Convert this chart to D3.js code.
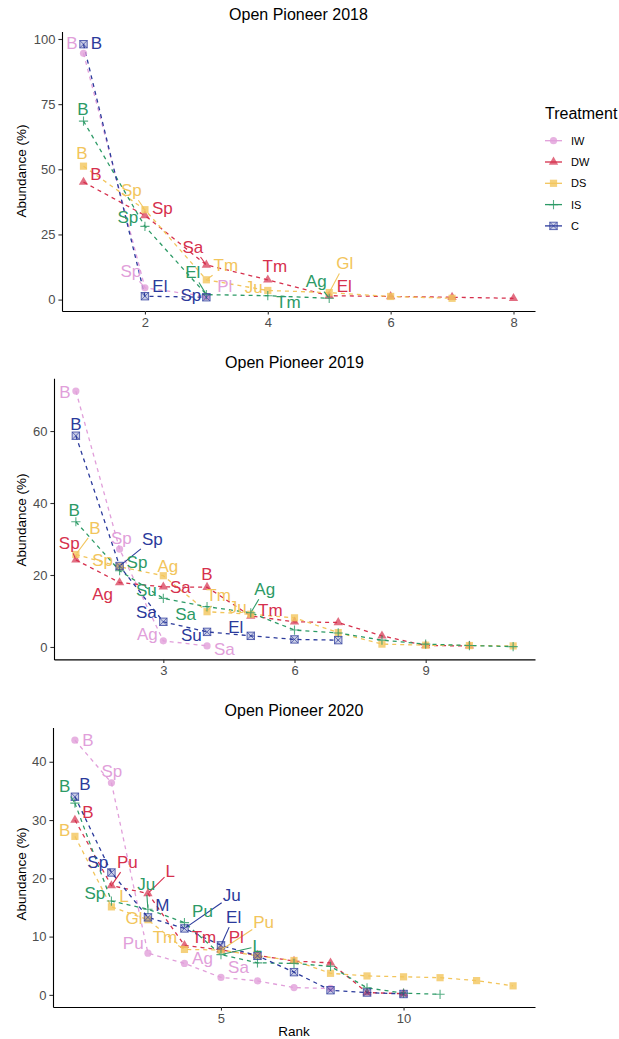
<!DOCTYPE html>
<html><head><meta charset="utf-8">
<script src="https://cdn.jsdelivr.net/npm/d3@7"></script>
<style>body{margin:0;background:#fff} text{font-family:"Liberation Sans",Arial,sans-serif}</style>
</head><body><svg id="c" width="619" height="1039"></svg>
<script>
// ---------- data ----------
const treatments = ["IW","DW","DS","IS","C"];
const colors = ["#E19FDA","#D6304D","#F2C55C","#2C9A66","#2B3A9B"];
const panelTitles = ["Open Pioneer 2018","Open Pioneer 2019","Open Pioneer 2020"];

// abundance (%) by rank, one array per treatment (IW, DW, DS, IS, C)
const abund2018 = [
  [94.5, 4.5, 1.2],
  [45.1, 32.3, 13.3, 7.6, 1.5, 1.2, 0.9, 0.5],
  [51.2, 34.5, 7.6, 3.5, 2.7, 1.2, 0.5],
  [68.5, 28.1, 1.9, 1.5, 0.5],
  [98.0, 1.3, 0.9]
];
const species2018 = [
  ["B","Sp","Pl"],
  ["B","Sp","Sa","Tm","El"],
  ["B","Sp","Tm","Ju","Gl"],
  ["B","Sp","El","Tm","Ag"],
  ["B","El","Sp"]
];
const abund2019 = [
  [71.1, 27.2, 1.7, 0.3],
  [24.2, 17.9, 16.7, 16.6, 8.6, 7.0, 6.8, 3.1, 0.4, 0.3],
  [25.7, 22.3, 19.8, 9.8, 9.1, 8.1, 4.0, 0.8, 0.5, 0.4, 0.3],
  [34.8, 21.2, 13.5, 11.2, 9.5, 4.7, 3.9, 1.9, 0.8, 0.4, 0.1],
  [58.7, 22.5, 7.0, 4.2, 3.1, 2.1, 1.9]
];
const species2019 = [
  ["B","Sp","Ag","Sa"],
  ["Sp","Ag","Sa","B","Tm"],
  ["B","Sp","Ag","Tm","Ju"],
  ["B","Sp","Su","Sa","Ag"],
  ["B","Sp","Sa","Su","El"]
];
const abund2020 = [
  [43.7, 36.4, 7.15, 5.4, 3.0, 2.4, 1.25, 1.1],
  [30.0, 18.75, 17.4, 8.5, 7.7, 6.8, 5.8, 5.5, 0.4, 0.2],
  [27.2, 15.1, 12.9, 7.8, 7.7, 6.7, 5.9, 3.7, 3.25, 3.1, 2.95, 2.45, 1.55],
  [32.9, 16.1, 14.7, 12.4, 6.9, 5.5, 5.4, 4.9, 1.2, 0.3, 0.1],
  [34.0, 21.0, 13.3, 11.4, 8.5, 6.7, 3.9, 0.8, 0.4, 0.15]
];
const species2020 = [
  ["B","Sp","Pu","Ag","Sa"],
  ["B","Pu","L","Tm","Pl"],
  ["B","L","Gl","Tm","Pu"],
  ["B","Sp","Ju","Pu","L"],
  ["B","Sp","M","Ju","El"]
];
const xTicks2018 = [2,4,6,8], yTicks2018 = [0,25,50,75,100];
const xTicks2019 = [3,6,9],   yTicks2019 = [0,20,40,60];
const xTicks2020 = [5,10],    yTicks2020 = [0,10,20,30,40];

// ---------- label placement (repel result): [dx, dy, segment] in px ----------
const nudge2018 = [
  [[-11.5,-10,0],[-14,-17,1],[18.5,-10,0]],
  [[12.5,-8,0],[17.5,-7.5,0],[-13.5,-18.4,1],[7,-14,0],[15,-10,0]],
  [[-1.5,-13.4,0],[-13.5,-20,1],[19.5,-14.7,1],[-14,-3,0],[15.5,-29.5,1]],
  [[-0.5,-12,0],[-17,-9.5,0],[-13.5,-22.6,1],[20.5,6.4,0],[-13,-17.2,1]],
  [[13,-1,0],[15,-10.6,0],[-15.5,-2.2,0]]
];
const nudge2019 = [
  [[-11,0.5,0],[1.7,-11,0],[-16,-7,0],[17.3,2.6,0]],
  [[-6.6,-17,1],[-17,11.5,0],[17,0,0],[0,-13,0],[19.6,-6,0]],
  [[19,-26,1],[-17,-7,0],[4.5,-10,0],[11.5,-16.5,1],[-13,-7,0]],
  [[-1.6,-12,0],[17.4,-9,0],[-17,-8.6,0],[-21.4,7,0],[14,-24,1]],
  [[0,-12,0],[32.7,-26.7,1],[-17,-10,0],[-15.7,3,0],[-15,-8.5,0]]
];
const nudge2020 = [
  [[13,-0.5,0],[0.5,-11.8,0],[-14.7,-10,0],[18,-5.5,0],[17.5,-10.5,0]],
  [[13,-8.4,0],[16,-24,1],[22.3,-22.6,1],[19.5,-8.7,0],[15.3,-13.4,0]],
  [[-10.3,-6.7,0],[12.5,-11,0],[-14,-2,0],[-19.5,-12.8,1],[42.7,-28.4,1]],
  [[-10.3,-17.2,1],[-16.5,-8,0],[-1.8,-24.8,1],[18,-11.7,0],[36.2,-8.8,1]],
  [[10,-13.1,0],[-13.7,-10.6,0],[14.5,-12,0],[47.2,-33,1],[12.7,-28.7,1]]
];

// ---------- layout ----------
const panels = [
  {title: panelTitles[0], data: abund2018, sp: species2018, nudge: nudge2018, xt: xTicks2018, yt: yTicks2018,
   box:{l:62, r:535, t:31.5, b:311}, titleY:20, ylabY:171},
  {title: panelTitles[1], data: abund2019, sp: species2019, nudge: nudge2019, xt: xTicks2019, yt: yTicks2019,
   box:{l:54, r:535, t:378.3, b:659.4}, titleY:368, ylabY:520},
  {title: panelTitles[2], data: abund2020, sp: species2020, nudge: nudge2020, xt: xTicks2020, yt: yTicks2020,
   box:{l:53, r:535, t:727.5, b:1007}, titleY:716, ylabY:874}
];

const svg = d3.select("#c");
svg.append("rect").attr("width",619).attr("height",1039).attr("fill","#fff");

function drawMarker(g, k, cx, cy) {
  const col = colors[k];
  if (k === 0) {
    g.append("circle").attr("cx",cx).attr("cy",cy).attr("r",3.6).attr("fill",col).attr("fill-opacity",0.8);
  } else if (k === 1) {
    g.append("path").attr("d", d3.symbol().type(d3.symbolTriangle).size(38)()).attr("transform",`translate(${cx},${cy})`)
      .attr("fill",col).attr("fill-opacity",0.7);
  } else if (k === 2) {
    g.append("rect").attr("x",cx-3.6).attr("y",cy-3.6).attr("width",7.2).attr("height",7.2).attr("fill",col).attr("fill-opacity",0.8);
  } else if (k === 3) {
    g.append("path").attr("d",`M${cx-4.6},${cy}H${cx+4.6}M${cx},${cy-4.6}V${cy+4.6}`).attr("stroke",col).attr("stroke-width",1.1).attr("stroke-opacity",0.8);
  } else {
    g.append("rect").attr("x",cx-3.7).attr("y",cy-3.7).attr("width",7.4).attr("height",7.4)
      .attr("fill",col).attr("fill-opacity",0.25).attr("stroke",col).attr("stroke-opacity",0.75).attr("stroke-width",1);
    g.append("path").attr("d",`M${cx-3.7},${cy-3.7}L${cx+3.7},${cy+3.7}M${cx+3.7},${cy-3.7}L${cx-3.7},${cy+3.7}`)
      .attr("stroke",col).attr("stroke-opacity",0.75).attr("stroke-width",0.9);
  }
}

panels.forEach(p => {
  const n = d3.max(p.data, d => d.length);
  const allV = p.data.flat();
  const vmin = d3.min(allV), vmax = d3.max(allV);
  const x = d3.scaleLinear().domain([1 - 0.05*(n-1), n + 0.05*(n-1)]).range([p.box.l, p.box.r]);
  const y = d3.scaleLinear().domain([vmin - 0.05*(vmax-vmin), vmax + 0.05*(vmax-vmin)]).range([p.box.b, p.box.t]);

  const g = svg.append("g");
  // title
  g.append("text").attr("x",(p.box.l+p.box.r)/2).attr("y",p.titleY).attr("text-anchor","middle")
    .attr("font-size",16).attr("fill","#000").text(p.title);
  // y label
  g.append("text").attr("transform",`translate(26,${p.ylabY}) rotate(-90)`).attr("text-anchor","middle")
    .attr("font-size",13.5).attr("fill","#000").text("Abundance (%)");

  // axes
  const xa = g.append("g").attr("transform",`translate(0,${p.box.b})`)
    .call(d3.axisBottom(x).tickValues(p.xt).tickSize(3.6).tickSizeOuter(0).tickPadding(3).tickFormat(d3.format("d")));
  const ya = g.append("g").attr("transform",`translate(${p.box.l},0)`)
    .call(d3.axisLeft(y).tickValues(p.yt).tickSize(3.6).tickSizeOuter(0).tickPadding(3).tickFormat(d3.format("d")));
  [xa, ya].forEach(a => {
    a.select(".domain").attr("stroke","#000").attr("stroke-width",1.1);
    a.selectAll(".tick line").attr("stroke","#333").attr("stroke-width",1.1);
    a.selectAll(".tick text").attr("fill","#4D4D4D").attr("font-size",13).attr("font-family","Liberation Sans, Arial, sans-serif");
  });

  // lines
  const line = d3.line().x((d,i) => x(i+1)).y(d => y(d));
  p.data.forEach((vals, k) => {
    g.append("path").datum(vals).attr("d", line).attr("fill","none")
      .attr("stroke", colors[k]).attr("stroke-width",1.3).attr("stroke-dasharray","4,4");
  });
  // points
  p.data.forEach((vals, k) => {
    const pg = g.append("g");
    vals.forEach((v,i) => drawMarker(pg, k, x(i+1), y(v)));
  });

  // labels
  const segG = g.append("g"), txtG = g.append("g");
  p.data.forEach((vals, k) => {
    p.sp[k].forEach((s, i) => {
      const px = x(i+1), py = y(vals[i]);
      const [dx, dy, seg] = p.nudge[k][i];
      const cx = px + dx, cy = py + dy;
      const t = txtG.append("text").attr("x",cx).attr("y",cy + 6).attr("text-anchor","middle")
        .attr("font-size",17).attr("fill",colors[k]).text(s);
      if (seg) {
        const bb = t.node().getBBox();
        const hw = bb.width/2 + 1, hh = bb.height/2 + 0.5;
        const bcx = bb.x + bb.width/2, bcy = bb.y + bb.height/2;
        const vx = px - bcx, vy = py - bcy;
        const sc = Math.min(Math.abs(vx) > 0 ? hw/Math.abs(vx) : Infinity, Math.abs(vy) > 0 ? hh/Math.abs(vy) : Infinity);
        if (sc < 1) {
          const ex = bcx + vx*sc, ey = bcy + vy*sc;
          const len = Math.hypot(px-ex, py-ey);
          const sh = Math.min(1.5, len*0.2);
          segG.append("line").attr("x1", ex).attr("y1", ey)
            .attr("x2", px - (px-ex)/len*sh).attr("y2", py - (py-ey)/len*sh)
            .attr("stroke", colors[k]).attr("stroke-width",1.1);
        }
      }
    });
  });
});

// x axis title (bottom panel)
svg.append("text").attr("x",(53+535)/2).attr("y",1036).attr("text-anchor","middle")
  .attr("font-size",13.5).attr("fill","#000").text("Rank");

// legend
const lg = svg.append("g");
lg.append("text").attr("x",545).attr("y",119).attr("font-size",16).attr("fill","#000").text("Treatment");
treatments.forEach((t,k) => {
  const yy = 140.7 + k*21.3;
  lg.append("line").attr("x1",545).attr("x2",562).attr("y1",yy).attr("y2",yy).attr("stroke",colors[k]).attr("stroke-width",1.3);
  drawMarker(lg, k, 553.5, yy);
  lg.append("text").attr("x",571).attr("y",yy+4).attr("font-size",11).attr("fill","#000").text(t);
});
</script></body></html>
